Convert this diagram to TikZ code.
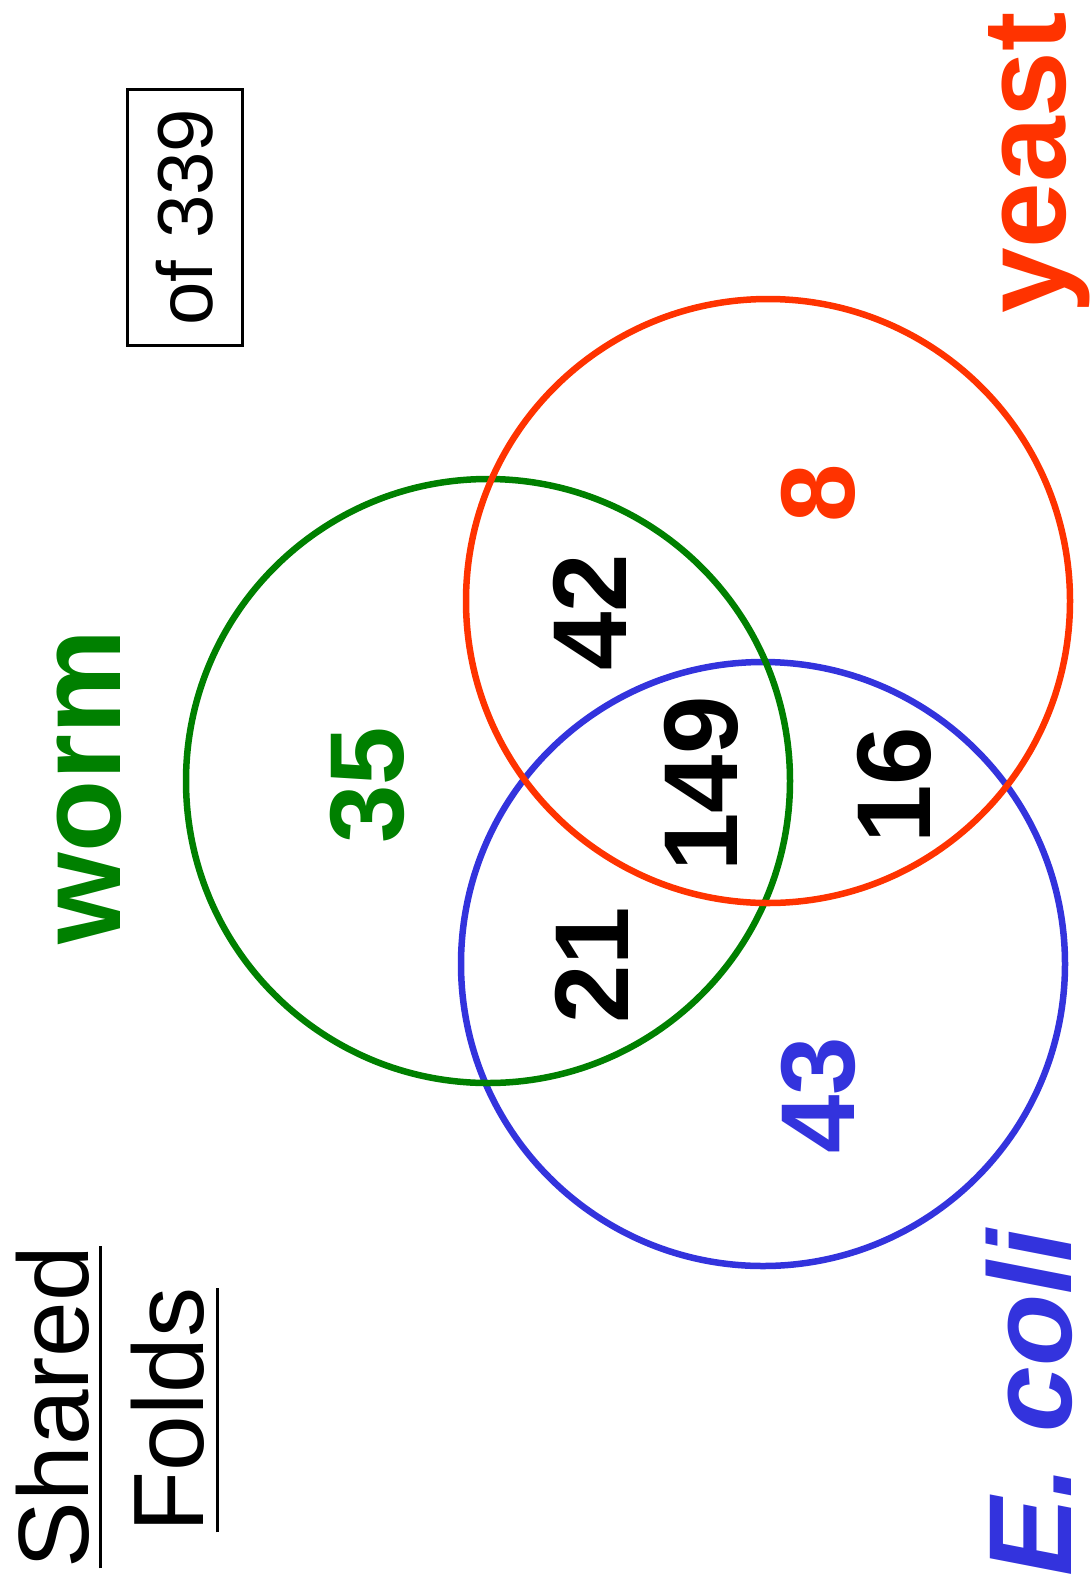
\documentclass[tikz,border=0pt]{standalone}
\usepackage{fontspec}
\setmainfont{Liberation Sans}
\usepackage{tikz}
\definecolor{wormgreen}{RGB}{0,128,0}
\definecolor{yeastred}{RGB}{255,51,0}
\definecolor{coliblue}{RGB}{51,51,221}

\begin{document}
\begin{tikzpicture}[x=1pt, y=-1pt,
  ring/.style={circle, draw, line width=6.5pt, inner sep=0pt, minimum size=604pt},
  species/.style={rotate=90, anchor=base, inner sep=0pt, font=\fontsize{118}{120}\selectfont\bfseries},
  count/.style={rotate=90, anchor=base, inner sep=0pt, font=\fontsize{105}{110}\selectfont\bfseries},
  caption/.style={rotate=90, anchor=base, inner sep=0pt, font=\fontsize{100}{105}\selectfont}]
\useasboundingbox (0,0) rectangle (1091,1588);
\node[ring, draw=coliblue] (coliset) at (763,964) {};
\node[ring, draw=wormgreen] (wormset) at (488,781) {};
\node[ring, draw=yeastred] (yeastset) at (768,601) {};
\node[species, text=wormgreen] (worm) at (120,787) {worm};
\node[species, text=yeastred] (yeast) at (1065,163) {yeast};
\node[species, text=coliblue] (ecoli) at (1071,1403) {\itshape E. coli};
\node[count, text=wormgreen] (wormonly) at (403,785) {35};
\node[count, text=yeastred] (yeastonly) at (854,493) {8};
\node[count, text=coliblue] (colionly) at (854,1095) {43};
\node[count] (wormyeast) at (626,612) {42};
\node[count] (wormcoli) at (628,965) {21};
\node[count] (yeastcoli) at (930,785) {16};
\node[count] (allthree) at (737,784) {149};
\node[caption] (shared) at (88,1407) {Shared};
\node[caption] (folds) at (203,1410) {Folds};
\draw[line width=3pt] ([xshift=12pt]shared.base west) -- ([xshift=12pt]shared.base east);
\draw[line width=3pt] ([xshift=14pt]folds.base west) -- ([xshift=14pt]folds.base east);
\node[rotate=90, draw, line width=3pt, minimum width=256pt, minimum height=115pt,
  font=\fontsize{78}{80}\selectfont] (total) at (184.5,217) {of 339};
\end{tikzpicture}
\end{document}
